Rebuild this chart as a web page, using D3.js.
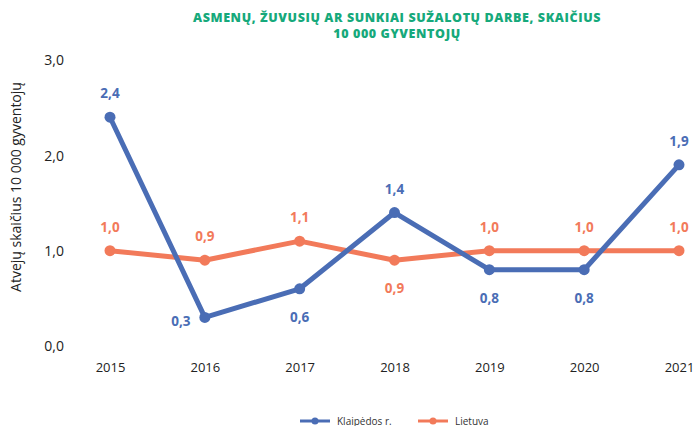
<!DOCTYPE html>
<meta charset='utf-8'>
<head>
    <title>Atvejai</title>
    <script src='https://cdn.jsdelivr.net/npm/d3@7/dist/d3.min.js'></script>
</head>

<style>
    body { margin: 0; background: #fff; }
    text { font-family: 'Open Sans', 'Noto Sans', sans-serif; }
    .title { fill: #16a97b; font-weight: 800; font-size: 12.5px; letter-spacing: 0.6px; }
    .tick text { fill: #222; }
    .lbl { font-weight: 700; font-size: 13.5px; }
</style>

<svg></svg>

<script>
    var vWidth = 694;
    var vHeight = 426;

    var years = ['2015', '2016', '2017', '2018', '2019', '2020', '2021'];
    var klaipedos = [2.4, 0.3, 0.6, 1.4, 0.8, 0.8, 1.9];
    var lietuva = [1.0, 0.9, 1.1, 0.9, 1.0, 1.0, 1.0];
    var yTicks = [0, 1, 2, 3];

    // label placement: 'up', 'down', 'left' per point
    var klaipedosPos = ['up', 'left', 'down', 'up', 'down', 'down', 'up'];
    var lietuvaPos = ['up', 'up', 'up', 'down', 'up', 'up', 'up'];

    var vSeries = [
        {name: 'Klaipėdos r.', values: klaipedos, pos: klaipedosPos, color: '#4a6db5'},
        {name: 'Lietuva', values: lietuva, pos: lietuvaPos, color: '#f27a5a'}
    ];

    var fmt = function (v) { return d3.format('.1f')(v).replace('.', ','); };

    var svg = d3.select('svg').attr('width', vWidth).attr('height', vHeight);

    var x = d3.scalePoint().domain(years).range([110, 679]);
    var y = d3.scaleLinear().domain([0, 3]).range([346, 60]);

    // Title
    svg.append('text').attr('class', 'title').attr('text-anchor', 'middle')
        .attr('x', 397).attr('y', 22).text('ASMENŲ, ŽUVUSIŲ AR SUNKIAI SUŽALOTŲ DARBE, SKAIČIUS');
    svg.append('text').attr('class', 'title').attr('text-anchor', 'middle')
        .attr('x', 397).attr('y', 38).text('10 000 GYVENTOJŲ');

    // Axes
    var yAxis = svg.append('g').attr('transform', 'translate(64,0)')
        .call(d3.axisLeft(y).tickValues(yTicks).tickFormat(fmt).tickSize(0).tickPadding(0));
    yAxis.select('.domain').remove();
    yAxis.selectAll('text').style('font-size', '14px').attr('dy', '0.35em');

    var xAxis = svg.append('g').attr('transform', 'translate(0,360)')
        .call(d3.axisBottom(x).tickSize(0).tickPadding(0));
    xAxis.select('.domain').remove();
    xAxis.selectAll('text').style('font-size', '13px').attr('dy', '0.9em');

    svg.append('text').attr('transform', 'translate(21,187) rotate(-90)')
        .attr('text-anchor', 'middle').style('font-size', '14px').attr('fill', '#222')
        .text('Atvejų skaičius 10 000 gyventojų');

    // Lines
    var vLine = d3.line()
        .x(function (d, i) { return x(years[i]); })
        .y(function (d) { return y(d); });

    var gSeries = svg.selectAll('g.series').data(vSeries.slice().reverse()).enter()
        .append('g').attr('class', 'series');

    gSeries.append('path')
        .attr('d', function (s) { return vLine(s.values); })
        .attr('fill', 'none')
        .attr('stroke', function (s) { return s.color; })
        .attr('stroke-width', 5)
        .attr('stroke-linejoin', 'round');

    gSeries.each(function (s) {
        var g = d3.select(this);
        g.selectAll('circle').data(s.values).enter().append('circle')
            .attr('cx', function (d, i) { return x(years[i]); })
            .attr('cy', function (d) { return y(d); })
            .attr('r', 5.5)
            .attr('fill', s.color);

        g.selectAll('text.lbl').data(s.values).enter().append('text')
            .attr('class', 'lbl')
            .attr('fill', s.color)
            .attr('text-anchor', 'middle')
            .attr('x', function (d, i) { return x(years[i]) + (s.pos[i] === 'left' ? -24 : 0); })
            .attr('y', function (d, i) {
                var p = s.pos[i];
                if (p === 'up') return y(d) - 19;
                if (p === 'left') return y(d) + 9;
                return y(d) + 33;
            })
            .text(fmt);
    });

    // Legend
    var legend = svg.append('g').attr('transform', 'translate(0,421)');
    var lx = [300, 418];
    vSeries.forEach(function (s, i) {
        var g = legend.append('g').attr('transform', 'translate(' + lx[i] + ',0)');
        g.append('line').attr('x1', 0).attr('x2', 30).attr('y1', 0).attr('y2', 0)
            .attr('stroke', s.color).attr('stroke-width', 3);
        g.append('circle').attr('cx', 15).attr('cy', 0).attr('r', 3.5).attr('fill', s.color);
        g.append('text').attr('x', 37).attr('y', 3.5).style('font-size', '10px')
            .attr('fill', '#333').text(s.name);
    });
</script>
